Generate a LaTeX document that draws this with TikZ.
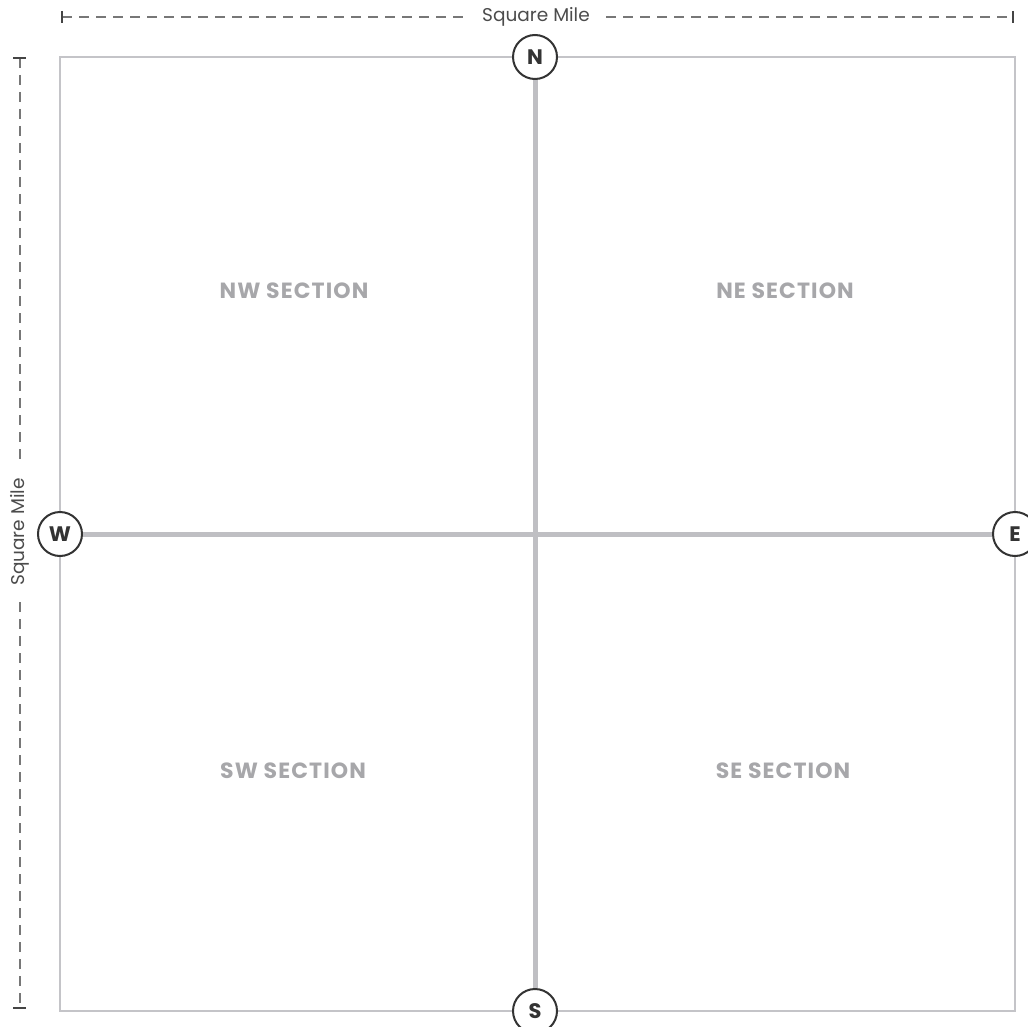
\documentclass[tikz,border=0pt]{standalone}
\usepackage{fontspec}
\setmainfont{Poppins}
\definecolor{boxgray}{HTML}{C4C4C8}
\definecolor{roadgray}{HTML}{BFBFC3}
\definecolor{labelgray}{HTML}{A7A7AA}
\definecolor{dimgray}{HTML}{777777}
\definecolor{tickgray}{HTML}{444444}
\definecolor{ringdark}{HTML}{333333}
\tikzset{
  dimline/.style={draw=dimgray, line width=1.6pt, dash pattern=on 10pt off 7pt},
  dimtick/.style={draw=tickgray, line width=2.5pt},
  dimtext/.style={fill=white, text=black!70, font=\fontsize{18.5}{20}\selectfont, inner xsep=12pt, inner ysep=2pt},
  road/.style={draw=roadgray, line width=5pt},
  compass/.style={circle, draw=ringdark, line width=2pt, fill=white, minimum size=44pt, inner sep=0pt, text=ringdark, font=\bfseries\fontsize{21}{22}\selectfont},
  sectionlabel/.style={text=labelgray, font=\bfseries\fontsize{22}{24}\selectfont\addfontfeatures{LetterSpace=5}}
}
\begin{document}
\begin{tikzpicture}[x=1pt,y=-1pt]
\useasboundingbox (0,0) rectangle (1028,1027);
% outer square
\draw[draw=boxgray, line width=2pt] (60,57) rectangle (1015,1011);
% top dimension
\coordinate (tl) at (62,17);
\coordinate (tr) at (1013,17);
\draw[dimline] (tl) -- (tr);
\draw[dimtick] (62,11) -- (62,23);
\draw[dimtick] (1013,11) -- (1013,23);
\node[dimtext] (topdim) at (536,17) {Square Mile};
% left dimension
\coordinate (lt) at (20,58);
\coordinate (lb) at (20,1008);
\draw[dimline] (lt) -- (lb);
\draw[dimtick] (13,58) -- (26,58);
\draw[dimtick] (13,1008) -- (26,1008);
\node[dimtext, rotate=90] (leftdim) at (20,532) {Square Mile};
% compass nodes
\node[compass] (N) at (535,57) {N};
\node[compass] (S) at (535,1011) {S};
\node[compass] (W) at (60,534) {W};
\node[compass] (E) at (1015,534) {E};
% roads
\draw[road] (N) -- (S);
\draw[road] (W) -- (E);
% section labels
\node[sectionlabel] (nw) at (294,291) {NW SECTION};
\node[sectionlabel] (ne) at (785,291) {NE SECTION};
\node[sectionlabel] (sw) at (293,771) {SW SECTION};
\node[sectionlabel] (se) at (783,771) {SE SECTION};
\end{tikzpicture}
\end{document}
